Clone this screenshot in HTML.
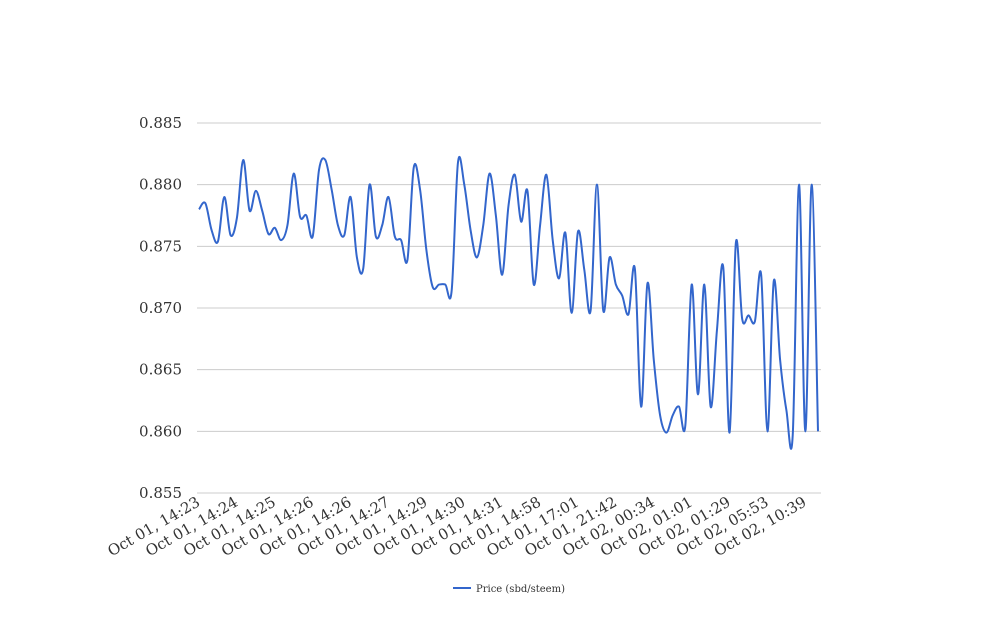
<!DOCTYPE html>
<html><head><meta charset="utf-8"><style>
body{margin:0;background:#fff;}
svg text{font-family:"DejaVu Serif","Liberation Serif",serif;fill:#333;}
</style></head><body>
<svg width="1008" height="616" id="chart">
<g id="grid"></g>
<g id="ylab"></g>
<g id="xlab"></g>
<path id="line" fill="none" stroke="#3366cc" stroke-width="2"/>
<g>
<line x1="453" y1="588" x2="471" y2="588" stroke="#3366cc" stroke-width="2"/>
<text x="476" y="592" font-size="10">Price (sbd/steem)</text>
</g>
</svg>
<script>
const values=[0.8780,0.8785,0.8763,0.8754,0.8790,0.8759,0.8773,0.8820,0.8779,0.8795,
0.8779,0.8760,0.8765,0.8755,0.8767,0.8809,0.8774,0.8775,0.8758,0.8812,
0.8820,0.8796,0.8767,0.8759,0.8790,0.8741,0.8732,0.8800,0.8758,0.8767,
0.8790,0.8758,0.8755,0.8739,0.8814,0.8796,0.8747,0.8717,0.8719,0.8719,
0.8714,0.8818,0.8800,0.8763,0.8741,0.8767,0.8809,0.8775,0.8727,0.8783,
0.8808,0.8770,0.8795,0.8719,0.8767,0.8808,0.8755,0.8724,0.8761,0.8696,
0.8762,0.8731,0.8698,0.8800,0.8698,0.8741,0.8719,0.8710,0.8695,0.8732,
0.8620,0.8720,0.8658,0.8613,0.8599,0.8613,0.8620,0.8605,0.8719,0.8630,
0.8719,0.8620,0.8682,0.8733,0.8599,0.8753,0.8691,0.8694,0.8689,0.8727,
0.8600,0.8722,0.8658,0.8617,0.8597,0.8800,0.8600,0.8800,0.8600];
const xLabels=["Oct 01, 14:23","Oct 01, 14:24","Oct 01, 14:25","Oct 01, 14:26","Oct 01, 14:26","Oct 01, 14:27","Oct 01, 14:29","Oct 01, 14:30","Oct 01, 14:31","Oct 01, 14:58","Oct 01, 17:01","Oct 01, 21:42","Oct 02, 00:34","Oct 02, 01:01","Oct 02, 01:29","Oct 02, 05:53","Oct 02, 10:39"];
const labelEvery=6;
const yTicks=[0.855,0.860,0.865,0.870,0.875,0.880,0.885];
const NS="http://www.w3.org/2000/svg";
const X0=199,X1=818,Y0=493,Y1=123,vMin=0.855,vMax=0.885;
const xs=i=>X0+(X1-X0)*i/(values.length-1);
const ys=v=>Y0-(v-vMin)/(vMax-vMin)*(Y0-Y1);
const grid=document.getElementById('grid'),yl=document.getElementById('ylab'),xl=document.getElementById('xlab');
yTicks.forEach(t=>{
 const l=document.createElementNS(NS,'line');
 l.setAttribute('x1',197);l.setAttribute('x2',821);l.setAttribute('y1',ys(t));l.setAttribute('y2',ys(t));
 l.setAttribute('stroke','#cccccc');l.setAttribute('stroke-width','1');
 
 
 grid.appendChild(l);
 const tx=document.createElementNS(NS,'text');
 tx.setAttribute('x',182);tx.setAttribute('y',ys(t)+5);tx.setAttribute('text-anchor','end');tx.setAttribute('font-size','15');
 tx.textContent=t.toFixed(3);
 
 
 yl.appendChild(tx);
});
xLabels.forEach((s,k)=>{
 const x=xs(k*labelEvery)+2,y=505;
 const tx=document.createElementNS(NS,'text');
 tx.setAttribute('x',x);tx.setAttribute('y',y);tx.setAttribute('text-anchor','end');tx.setAttribute('font-size','15');
 tx.setAttribute('transform','rotate(-30 '+x+' '+y+')');
 tx.textContent=s;
 
 
 xl.appendChild(tx);
});
const P=values.map((v,i)=>[xs(i),ys(v)]);
let d='M'+P[0][0]+','+P[0][1];
for(let i=0;i<P.length-1;i++){
 const p0=P[Math.max(0,i-1)],p1=P[i],p2=P[i+1],p3=P[Math.min(P.length-1,i+2)];
 const c1=[p1[0]+(p2[0]-p0[0])/6,p1[1]+(p2[1]-p0[1])/6];
 const c2=[p2[0]-(p3[0]-p1[0])/6,p2[1]-(p3[1]-p1[1])/6];
 d+=' C'+c1+' '+c2+' '+p2;
}
document.getElementById('line').setAttribute('d',d);
</script>
</body></html>
